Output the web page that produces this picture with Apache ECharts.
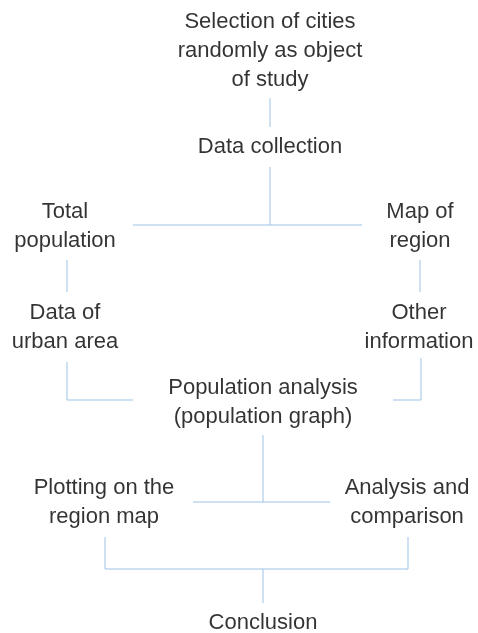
<!DOCTYPE html>
<html>
<head>
<meta charset="utf-8">
<style>
html,body{margin:0;padding:0;background:#fff;}
#chart{width:478px;height:633px;}
</style>
<script src="https://cdn.jsdelivr.net/npm/echarts@6/dist/echarts.min.js"></script>
</head>
<body>
<div id="chart"></div>
<script>
// Flowchart nodes: label text and centre position (in chart units = page px)
var nodeLabels = [
  "Selection of cities\nrandomly as object\nof study",
  "Data collection",
  "Total\npopulation",
  "Map of\nregion",
  "Data of\nurban area",
  "Other\ninformation",
  "Population analysis\n(population graph)",
  "Plotting on the\nregion map",
  "Analysis and\ncomparison",
  "Conclusion"
];
var nodeX = [270, 270, 65, 420, 65, 419, 263, 104, 407, 263];
var nodeY = [51, 147, 226, 226, 327, 327, 402, 502, 502, 623];

// Connector polylines
var connectors = [
  [[270, 98], [270, 127]],
  [[270, 167], [270, 225]],
  [[133, 225], [362, 225]],
  [[67, 260], [67, 292]],
  [[420, 260], [420, 292]],
  [[67, 362], [67, 400], [133, 400]],
  [[421, 358], [421, 400], [393, 400]],
  [[263, 435], [263, 502]],
  [[193, 502], [330, 502]],
  [[105, 537], [105, 569], [408, 569], [408, 537]],
  [[263, 569], [263, 603]]
];

var chart = echarts.init(document.getElementById('chart'), null, {renderer: 'canvas'});
var nodeData = nodeLabels.map(function (t, i) {
  return {name: t, value: [nodeX[i], nodeY[i]]};
});
chart.setOption({
  animation: false,
  backgroundColor: '#ffffff',
  grid: {left: 0, right: 0, top: 0, bottom: 0},
  xAxis: {type: 'value', min: 0, max: 478, show: false},
  yAxis: {type: 'value', min: 0, max: 633, inverse: true, show: false},
  series: [
    {
      type: 'lines',
      coordinateSystem: 'cartesian2d',
      polyline: true,
      silent: true,
      lineStyle: {color: '#9dc3e6', width: 1, opacity: 1},
      data: connectors.map(function (c) { return {coords: c}; })
    },
    {
      type: 'scatter',
      symbolSize: 1,
      itemStyle: {color: 'rgba(0,0,0,0)'},
      silent: true,
      label: {
        show: true,
        position: 'inside',
        formatter: function (p) { return p.name; },
        fontFamily: 'Liberation Sans',
        fontSize: 22,
        lineHeight: 29,
        color: '#000000',
        textBorderWidth: 0,
        align: 'center',
        verticalAlign: 'middle'
      },
      data: nodeData
    }
  ]
});
</script>
</body>
</html>
